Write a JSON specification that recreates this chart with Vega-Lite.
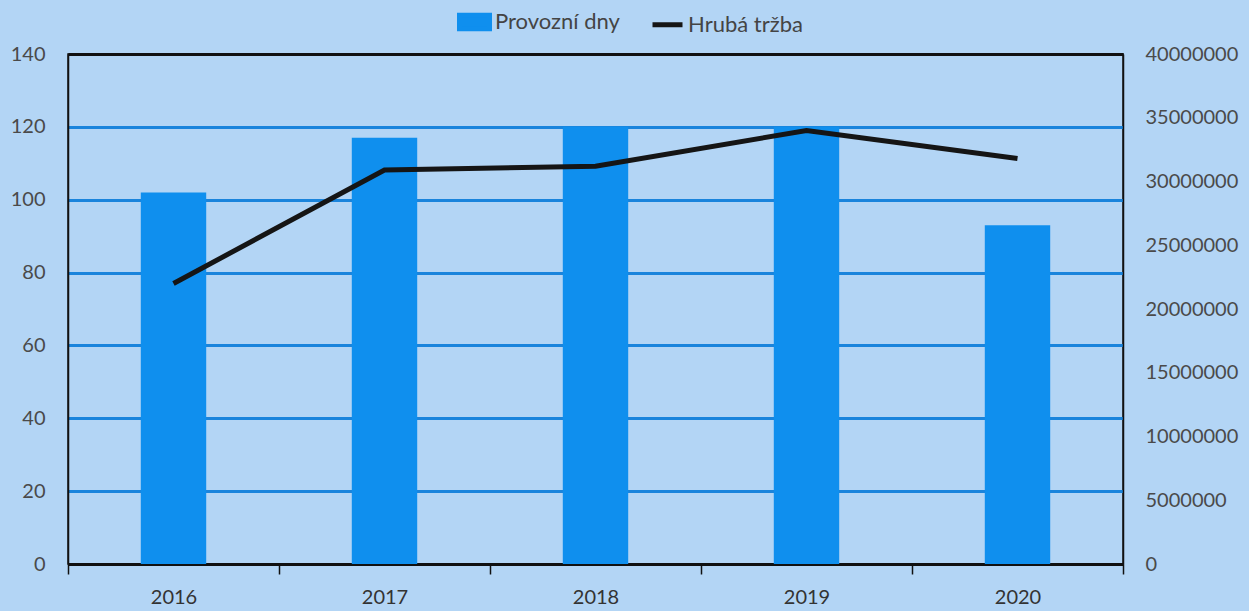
{
  "$schema": "https://vega.github.io/schema/vega-lite/v6.json",
  "autosize": "none",
  "width": 1055,
  "height": 510,
  "padding": {"left": 68, "top": 54, "right": 126, "bottom": 47},
  "background": "#b3d5f5",
  "config": {
    "view": {"stroke": "#111111", "strokeWidth": 1.5},
    "font": "Lato",
    "axis": {"labelFont": "Lato", "labelColor": "#4a4a4a", "labelFontSize": 20, "domainColor": "#111111", "domainWidth": 1.5, "tickColor": "#111111"}
  },
  "data": {
    "values": [
      {"year": "2016", "days": 102, "revenue": 22000000},
      {"year": "2017", "days": 117, "revenue": 30900000},
      {"year": "2018", "days": 120, "revenue": 31200000},
      {"year": "2019", "days": 120, "revenue": 34000000},
      {"year": "2020", "days": 93, "revenue": 31800000}
    ]
  },
  "encoding": {
    "x": {
      "field": "year",
      "type": "nominal",
      "scale": {"paddingInner": 0, "paddingOuter": 0},
      "axis": {
        "title": null,
        "labelAngle": 0,
        "tickBand": "extent",
        "tickSize": 10,
        "tickWidth": 1.5,
        "labelPadding": 13,
        "labelColor": "#333333",
        "labelFontSize": 20,
        "grid": false
      }
    }
  },
  "layer": [
    {
      "mark": {"type": "bar", "color": "#0f8fee", "width": {"band": 0.31}},
      "encoding": {
        "y": {
          "field": "days",
          "type": "quantitative",
          "scale": {"domain": [0, 140], "nice": false},
          "axis": {
            "title": null,
            "values": [0, 20, 40, 60, 80, 100, 120, 140],
            "ticks": false,
            "labelPadding": 23,
            "grid": true,
            "gridWidth": 3,
            "gridColor": {"condition": {"test": "datum.value === 140 || datum.value === 0", "value": "#111111"}, "value": "#1a84dc"},
            "gridOpacity": 1
          }
        },
        "color": {
          "datum": "Provozní dny",
          "scale": {"domain": ["Provozní dny", "Hrubá tržba"], "range": ["#0f8fee", "#151515"]},
          "legend": {
            "title": null,
            "orient": "none",
            "legendX": 389,
            "legendY": -50,
            "direction": "horizontal",
            "labelFont": "Lato",
            "labelFontSize": 22,
            "labelColor": "#444444",
            "labelOffset": 3,
            "columnPadding": 22,
            "symbolSize": 900,
            "encode": {
              "symbols": {
                "update": {
                  "shape": {"signal": "datum.value === 'Hrubá tržba' ? 'M-1,0H1' : 'M-1,-0.45H1V0.45H-1Z'"},
                  "fill": {"signal": "datum.value === 'Hrubá tržba' ? 'transparent' : '#0f8fee'"},
                  "stroke": {"signal": "datum.value === 'Hrubá tržba' ? '#151515' : 'transparent'"},
                  "strokeWidth": {"value": 5},
                  "fillOpacity": {"value": 1},
                  "strokeOpacity": {"value": 1}
                }
              }
            }
          }
        }
      }
    },
    {
      "mark": {"type": "line", "strokeWidth": 5, "color": "#151515"},
      "encoding": {
        "y": {
          "field": "revenue",
          "type": "quantitative",
          "scale": {"domain": [0, 40000000], "nice": false},
          "axis": {
            "title": null,
            "orient": "right",
            "values": [0, 5000000, 10000000, 15000000, 20000000, 25000000, 30000000, 35000000, 40000000],
            "format": "d",
            "ticks": false,
            "labelPadding": 22,
            "grid": false
          }
        },
        "color": {"datum": "Hrubá tržba"}
      }
    }
  ],
  "resolve": {"scale": {"y": "independent"}}
}
